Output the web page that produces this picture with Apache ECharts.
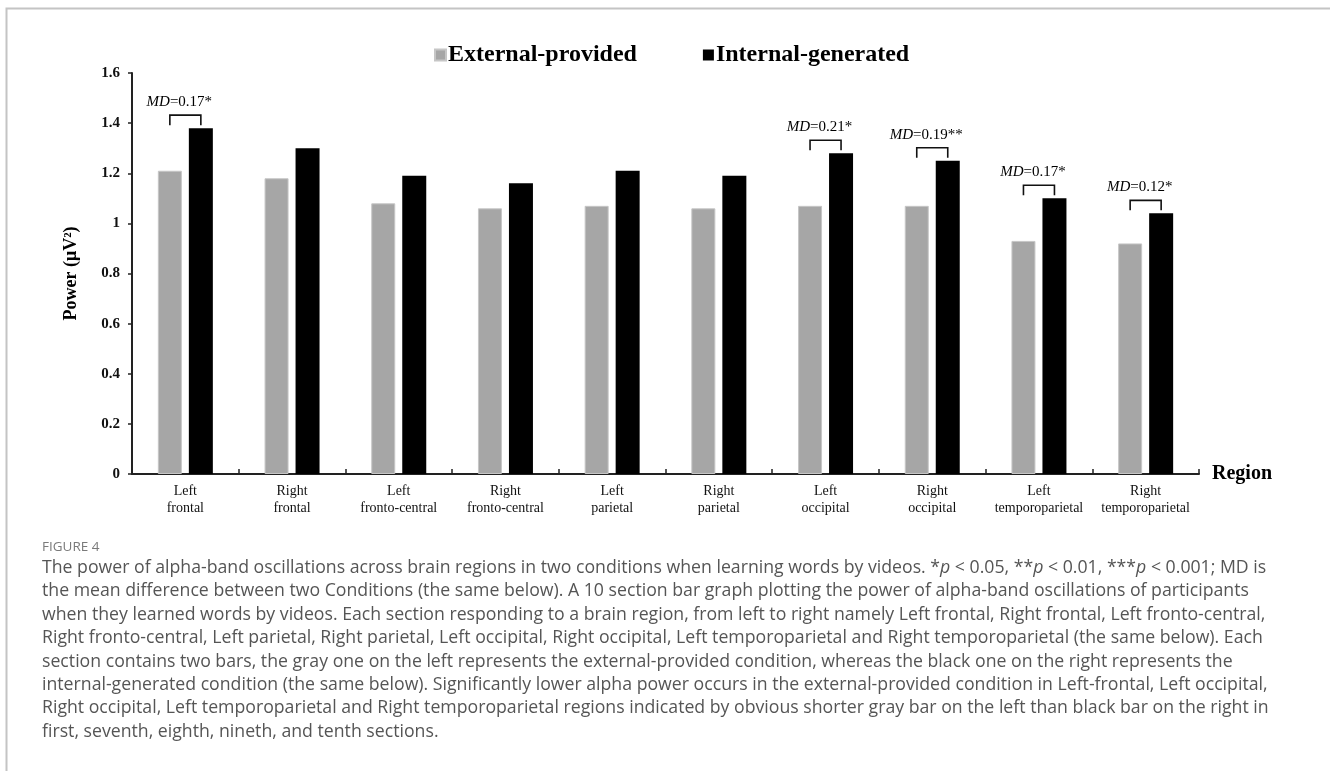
<!DOCTYPE html>
<html>
<head>
<meta charset="utf-8">
<script src="https://cdn.jsdelivr.net/npm/echarts@6.0.0/dist/echarts.min.js"></script>
<style>
  html, body { margin: 0; padding: 0; background: #fff; }
  #chart { width: 1330px; height: 771px; }
</style>
</head>
<body>
<div id="chart"></div>
<script>
// ---------- data ----------
const categories = [
  'Left\nfrontal', 'Right\nfrontal', 'Left\nfronto-central', 'Right\nfronto-central',
  'Left\nparietal', 'Right\nparietal', 'Left\noccipital', 'Right\noccipital',
  'Left\ntemporoparietal', 'Right\ntemporoparietal'
];
const externalProvided = [1.21, 1.18, 1.08, 1.06, 1.07, 1.06, 1.07, 1.07, 0.93, 0.92];
const internalGenerated = [1.38, 1.30, 1.19, 1.16, 1.21, 1.19, 1.28, 1.25, 1.10, 1.04];
const seriesNames = ['External-provided', 'Internal-generated'];
// significance annotations: category index, MD value, stars
const annotCategory = [0, 6, 7, 8, 9];
const annotMD = ['0.17', '0.21', '0.19', '0.17', '0.12'];
const annotStars = ['*', '*', '**', '*', '*'];
const yTicks = { min: 0, max: 1.6, interval: 0.2 };

const figureLabel = 'FIGURE 4';
const captionLines = [
  'The power of alpha-band oscillations across brain regions in two conditions when learning words by videos. *{i|p} < 0.05, **{i|p} < 0.01, ***{i|p} < 0.001; MD is',
  'the mean difference between two Conditions (the same below). A 10 section bar graph plotting the power of alpha-band oscillations of participants',
  'when they learned words by videos. Each section responding to a brain region, from left to right namely Left frontal, Right frontal, Left fronto-central,',
  'Right fronto-central, Left parietal, Right parietal, Left occipital, Right occipital, Left temporoparietal and Right temporoparietal (the same below). Each',
  'section contains two bars, the gray one on the left represents the external-provided condition, whereas the black one on the right represents the',
  'internal-generated condition (the same below). Significantly lower alpha power occurs in the external-provided condition in Left-frontal, Left occipital,',
  'Right occipital, Left temporoparietal and Right temporoparietal regions indicated by obvious shorter gray bar on the left than black bar on the right in',
  'first, seventh, eighth, nineth, and tenth sections.'
];

// ---------- style ----------
const SERIF = '"Liberation Serif", "Times New Roman", serif';
const SANS = '"Open Sans", "Noto Sans", sans-serif';
const BAR_W = 24;
const BAR_GAP_PX = 7;
const GRAY = '#a6a6a6';
const CAP_SIZE = 17.7;

const annotData = annotCategory.map((c, k) => [c, internalGenerated[c], annotMD[k], annotStars[k]]);

const chart = echarts.init(document.getElementById('chart'), null, { renderer: 'canvas' });

const captionGraphics = [
  {
    type: 'rect', left: 4, top: 6,
    shape: { width: 1325, height: 800 },
    style: { fill: 'none', stroke: '#c4c4c4', lineWidth: 2 },
    silent: true
  },
  {
    type: 'text', left: 42, top: 540,
    style: { text: figureLabel, font: '13.5px ' + SANS, fill: '#7a7a7a' }
  }
].concat(captionLines.map((line, k) => ({
  type: 'text', left: 42, top: 559 + k * 23.4,
  style: {
    text: line,
    font: CAP_SIZE + 'px ' + SANS,
    fill: '#555',
    rich: { i: { fontStyle: 'italic', fontFamily: SANS, fontSize: CAP_SIZE, fill: '#555' } }
  }
})));

const option = {
  animation: false,
  backgroundColor: '#fff',
  textStyle: { fontFamily: SERIF },
  legend: {
    data: seriesNames,
    left: 429, top: 38,
    itemWidth: 11, itemHeight: 11,
    itemGap: 66,
    icon: 'rect',
    textStyle: { fontFamily: SERIF, fontWeight: 'bold', fontSize: 24, color: '#000', padding: [0, 0, 0, -3] }
  },
  grid: { left: 132, right: 131, top: 73, bottom: 297 },
  xAxis: {
    type: 'category',
    data: categories,
    name: 'Region',
    nameLocation: 'end',
    nameGap: 13,
    nameTextStyle: { fontFamily: SERIF, fontWeight: 'bold', fontSize: 20, color: '#000', verticalAlign: 'middle', padding: [6, 0, 0, 0] },
    axisLine: { lineStyle: { color: '#222', width: 2 } },
    axisTick: { show: true, inside: true, length: 5, lineStyle: { color: '#222', width: 1.5 } },
    axisLabel: { fontFamily: SERIF, fontSize: 14, color: '#111', lineHeight: 17, margin: 9, interval: 0 }
  },
  yAxis: {
    type: 'value',
    min: yTicks.min, max: yTicks.max, interval: yTicks.interval,
    name: 'Power (\u03bcV\u00b2)',
    nameLocation: 'middle',
    nameGap: 52,
    nameTextStyle: { fontFamily: SERIF, fontWeight: 'bold', fontSize: 18, color: '#000' },
    splitLine: { show: false },
    axisLine: { show: true, lineStyle: { color: '#222', width: 2 } },
    axisTick: { show: true, inside: false, length: 4, lineStyle: { color: '#222', width: 1.5 } },
    axisLabel: { fontFamily: SERIF, fontWeight: 'bold', fontSize: 15, color: '#111', margin: 12 }
  },
  series: [
    {
      name: seriesNames[0], type: 'bar', data: externalProvided,
      barWidth: BAR_W, barGap: (BAR_GAP_PX / BAR_W * 100) + '%',
      itemStyle: { color: GRAY, borderColor: '#c6c6c6', borderWidth: 1 }
    },
    {
      name: seriesNames[1], type: 'bar', data: internalGenerated,
      barWidth: BAR_W,
      itemStyle: { color: '#000' }
    },
    {
      type: 'custom',
      data: annotData,
      z: 5,
      silent: true,
      renderItem: function (params, api) {
        const c = api.value(0);
        const v = api.value(1);
        const p = api.coord([c, v]);
        const off = (BAR_W + BAR_GAP_PX) / 2;
        const x1 = p[0] - off, x2 = p[0] + off;
        const yTop = p[1] - 13, yLeg = p[1] - 3;
        const d = annotData[params.dataIndex];
        return {
          type: 'group',
          children: [
            {
              type: 'polyline',
              shape: { points: [[x1, yLeg], [x1, yTop], [x2, yTop], [x2, yLeg]] },
              style: { stroke: '#111', lineWidth: 1.6, fill: null }
            },
            {
              type: 'text',
              x: p[0] - 6, y: yTop - 13,
              style: {
                text: '{i|MD}=' + d[2] + d[3],
                align: 'center', verticalAlign: 'middle',
                font: '15px ' + SERIF, fill: '#000',
                rich: { i: { fontStyle: 'italic', fontFamily: SERIF, fontSize: 15, fill: '#000' } }
              }
            }
          ]
        };
      }
    }
  ],
  graphic: captionGraphics
};

chart.setOption(option);
</script>
</body>
</html>
